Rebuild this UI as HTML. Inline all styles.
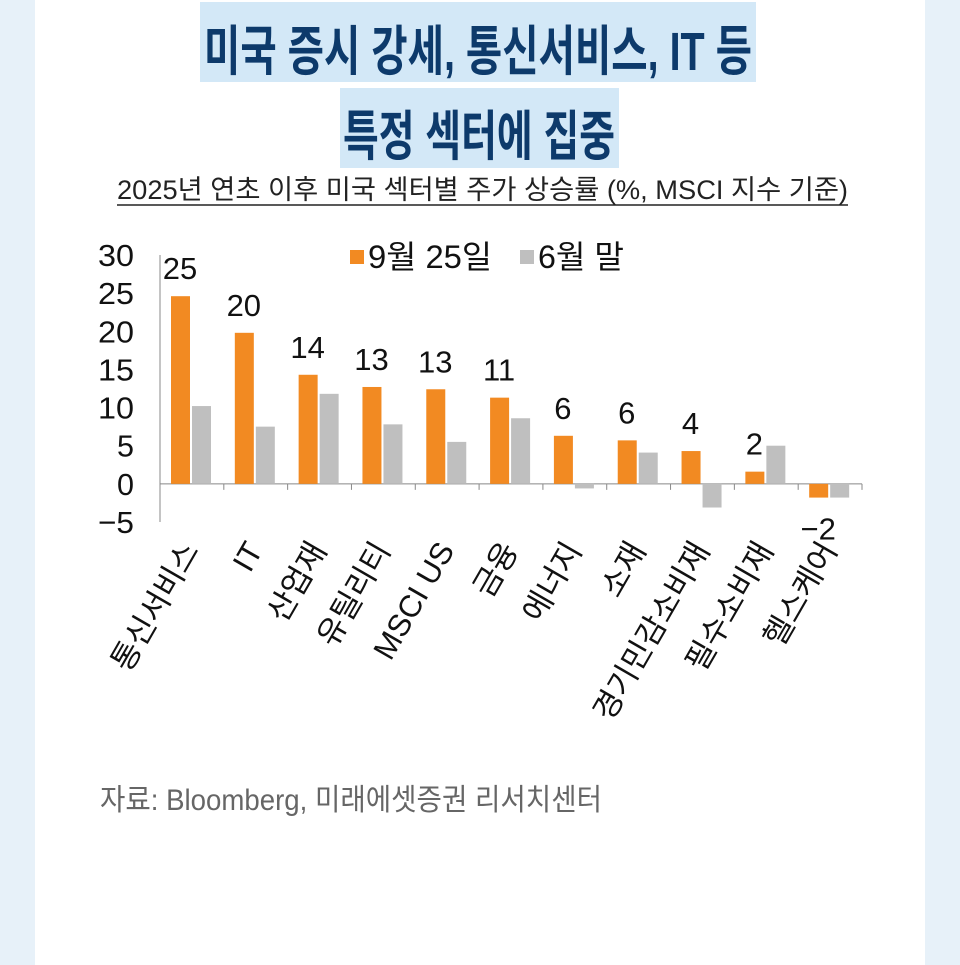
<!DOCTYPE html>
<html><head><meta charset="utf-8"><style>
html,body{margin:0;padding:0;background:#e7f1f9;}
svg{display:block;}
text{font-family:"Liberation Sans","Noto Sans CJK KR","NanumGothic",sans-serif;}
</style></head><body>
<svg id="c" width="960" height="965">
<rect x="35" y="0" width="890" height="965" fill="#ffffff"/>
<rect x="200" y="2" width="556" height="80" fill="#d3e8f7"/>
<rect x="340" y="88" width="279" height="80" fill="#d3e8f7"/>
<text x="478" y="70" text-anchor="middle" font-size="54" font-weight="bold" fill="#0d3a6b" textLength="548" lengthAdjust="spacingAndGlyphs">미국 증시 강세, 통신서비스, IT 등</text>
<text x="479" y="155" text-anchor="middle" font-size="54" font-weight="bold" fill="#0d3a6b" textLength="272" lengthAdjust="spacingAndGlyphs">특정 섹터에 집중</text>
<text x="117" y="199" font-size="27" fill="#222" textLength="731" lengthAdjust="spacingAndGlyphs">2025년 연초 이후 미국 섹터별 주가 상승률 (%, MSCI 지수 기준)</text>
<line x1="117" y1="205" x2="848" y2="205" stroke="#222" stroke-width="1.5"/>
<rect x="350" y="250" width="14" height="14" fill="#f28a22"/>
<text x="368" y="268" font-size="32" fill="#111" textLength="124" lengthAdjust="spacingAndGlyphs">9월 25일</text>
<rect x="520" y="250" width="14" height="14" fill="#bfbfbf"/>
<text x="538" y="268" font-size="32" fill="#111" textLength="86" lengthAdjust="spacingAndGlyphs">6월 말</text>
<text x="100" y="810" font-size="30" fill="#666" textLength="502" lengthAdjust="spacingAndGlyphs">자료: Bloomberg, 미래에셋증권 리서치센터</text>
<g id="plot"></g>
</svg>
<script>
const categories=["통신서비스","IT","산업재","유틸리티","MSCI US","금융","에너지","소재","경기민감소비재","필수소비재","헬스케어"];
const sep25=[24.6,19.8,14.3,12.7,12.4,11.3,6.3,5.7,4.3,1.6,-1.8];
const junEnd=[10.2,7.5,11.8,7.8,5.5,8.6,-0.6,4.1,-3.1,5.0,-1.8];
const valueLabels=["25","20","14","13","13","11","6","6","4","2","−2"];
const yTicks=[30,25,20,15,10,5,0,-5];
const yTickLabels=["30","25","20","15","10","5","0","−5"];
const NS="http://www.w3.org/2000/svg";
const g=document.getElementById('plot');
const x0=160,x1=862,yMin=-5,yMax=30,py0=522,py1=255;
const y=v=>py0-(v-yMin)*(py0-py1)/(yMax-yMin);
const bw=(x1-x0)/categories.length;
const x=i=>x0+i*bw;
function mk(t,a){const e=document.createElementNS(NS,t);for(const k in a)e.setAttribute(k,a[k]);g.appendChild(e);return e;}
let e=mk('line',{x1:x0,y1:py1,x2:x0,y2:py0,stroke:'#888','stroke-width':1});


e=mk('line',{x1:x0,y1:y(0),x2:x1,y2:y(0),stroke:'#888','stroke-width':1});


yTicks.forEach((v,i)=>{
  const t=mk('text',{x:134,y:y(v)+11,'text-anchor':'end','font-size':31,fill:'#111',textLength:yTickLabels[i].length>1?36:17,lengthAdjust:'spacingAndGlyphs'});
  t.textContent=yTickLabels[i];
  
  
});
categories.forEach((c,i)=>{
  const cx=x(i);
  const ob=mk('rect',{x:cx+11,y:Math.min(y(sep25[i]),y(0)),width:19,height:Math.abs(y(sep25[i])-y(0)),fill:'#f28a22'});
  
  
  const gb=mk('rect',{x:cx+32,y:Math.min(y(junEnd[i]),y(0)),width:19,height:Math.abs(y(junEnd[i])-y(0)),fill:'#bfbfbf'});
  
  
  const tk=mk('line',{x1:cx+bw,y1:y(0),x2:cx+bw,y2:y(0)+6,stroke:'#888'});
  
  
  const vy=sep25[i]>=0?y(sep25[i])-17:y(sep25[i])+42;
  const vl=mk('text',{x:cx+20,y:vy,'text-anchor':'middle','font-size':31,fill:'#111'});
  vl.textContent=valueLabels[i];
  
  
  const lx=cx+bw/2+8,ly=550;
  const cl=mk('text',{x:lx,y:ly,'text-anchor':'end','font-size':31,fill:'#111',transform:`rotate(-60 ${lx} ${ly})`});
  cl.textContent=c;
  
  
});
</script>
</body></html>
